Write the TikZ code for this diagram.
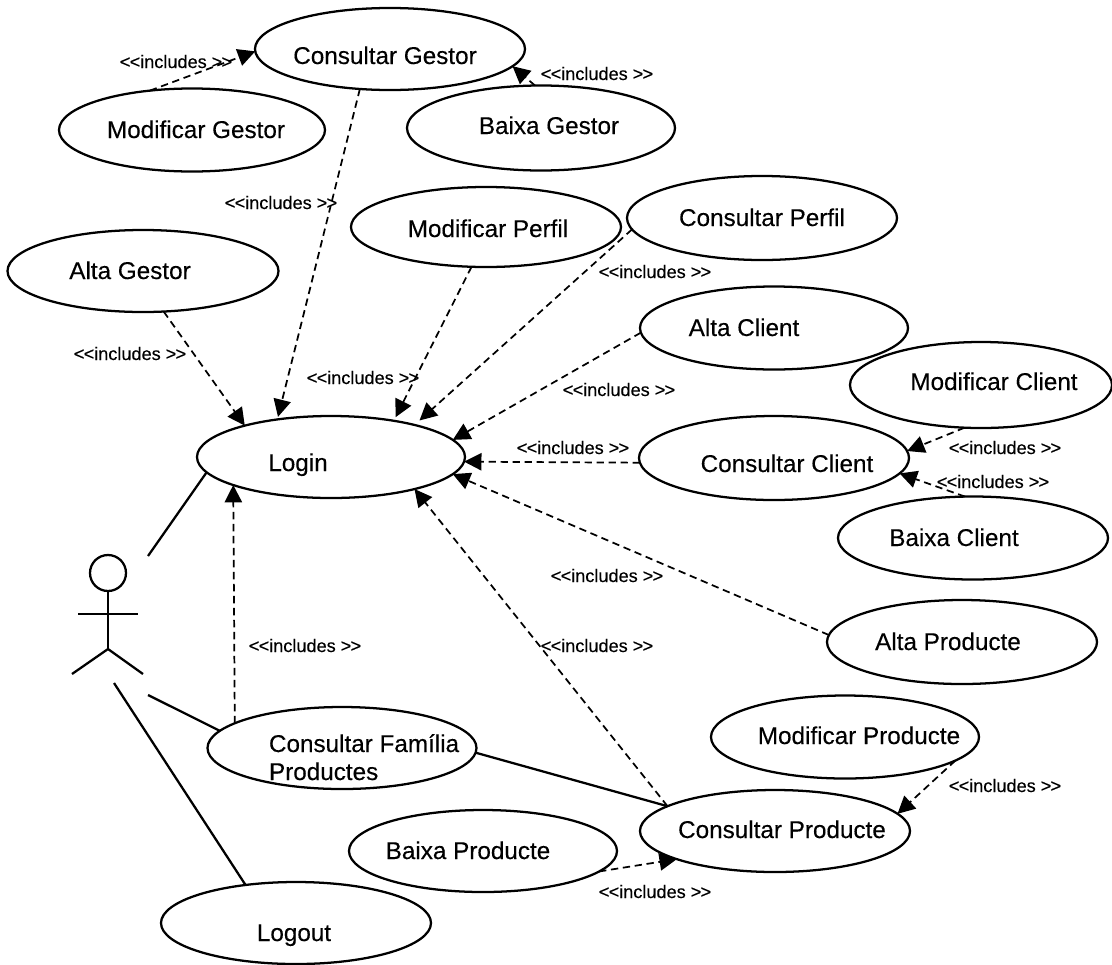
\documentclass[tikz,border=0pt]{standalone}
\usepackage{fontspec}
\setmainfont[FakeBold=0.25,AutoFakeBold=0.25]{Liberation Sans}
\usetikzlibrary{shapes.geometric,arrows.meta}
\newlength{\upx}\setlength{\upx}{0.75pt}
\newcommand{\shifted}[3]{\makebox[0pt][c]{\hspace*{#1\upx}\hspace*{#1\upx}\raisebox{#2\upx}[0pt][0pt]{#3}}}
% name, cx, cy, rx, ry, text dx, text raise, text
\newcommand{\usecase}[8]{\node[uc,minimum width=#4*1.5pt,minimum height=#5*1.5pt] (#1) at (#2,#3) {\shifted{#6}{#7}{#8}};}
\newcommand{\inclabel}{<\kern-0.6pt<includes >\kern-0.6pt>}
\tikzset{
  x=0.75pt,y=-0.75pt,
  uc/.style={ellipse,draw,line width=1.7pt,inner sep=0pt,outer sep=0pt,font=\fontsize{18.2pt}{22pt}\selectfont,fill=white},
  incl/.style={line width=1.3pt,dash pattern=on 5.5pt off 3.5pt,-{Triangle[length=13pt,width=13pt]}},
  assoc/.style={line width=1.7pt},
  lbl/.style={anchor=base,inner sep=0pt,font=\fontsize{13.6pt}{16pt}\selectfont},
  stick/.style={line width=1.7pt}
}
\begin{document}
\begin{tikzpicture}
\useasboundingbox (0,0) rectangle (1112,964);
\usecase{cg}{390}{49}{135}{41}{-5}{-15}{Consultar Gestor}
\usecase{mg}{192}{130}{133}{41.5}{4}{-8}{Modificar Gestor}
\usecase{bg}{541}{128}{134}{42.5}{8}{-6}{Baixa Gestor}
\usecase{mp}{486}{227}{135}{40}{2}{-10}{Modificar Perfil}
\usecase{cp}{762}{218}{135}{42}{0}{-8}{Consultar Perfil}
\usecase{ag}{143}{271}{135.5}{41}{-13}{-8}{Alta Gestor}
\usecase{ac}{774}{328}{134}{41.5}{-30}{-8}{Alta Client}
\usecase{mc}{981}{385}{131}{43}{13}{-5}{Modificar Client}
\usecase{login}{331}{457}{134}{41}{-33}{-14}{Login}
\usecase{ccl}{774}{458}{135}{42}{13}{-14}{Consultar Client}
\usecase{bc}{973}{538}{135}{41.5}{-19}{-8}{Baixa Client}
\usecase{ap}{962}{642}{135}{42}{-14}{-8}{Alta Producte}
\usecase{mpr}{845}{737}{134}{41.5}{14}{-7}{Modificar Producte}
\usecase{fam}{342}{748}{134.5}{41}{0}{0}{\makebox[0pt][l]{\hspace*{-73\upx}\raisebox{-4\upx}{Consultar Família}}\makebox[0pt][l]{\hspace*{-73\upx}\raisebox{-32\upx}{Productes}}}
\usecase{cpr}{775}{831}{135}{41}{7}{-7}{Consultar Producte}
\usecase{bpr}{483}{851}{134}{41}{-15}{-8}{Baixa Producte}
\usecase{lo}{296}{923}{135}{41}{-2}{-18}{Logout}

% actor
\node[circle,draw,line width=1.7pt,minimum size=27pt,inner sep=0pt] (head) at (108,573) {};
\coordinate (hip) at (108,649);
\coordinate (armL) at (78,614);
\coordinate (armR) at (138,614);
\coordinate (legL) at (72,674);
\coordinate (legR) at (143,674);
\draw[stick] (head.south) -- (hip);
\draw[stick] (armL) -- (armR);
\draw[stick] (legL) -- (hip) -- (legR);

% actor associations
\coordinate (a1) at (148,556);
\coordinate (a2) at (148,695);
\coordinate (a3) at (114,683);
\draw[assoc] (a1) -- (login.187.8);
\draw[assoc] (a2) -- (fam.172.6);
\draw[assoc] (a3) -- (lo.143);
\draw[assoc] (fam.-2) -- (cpr.167.6);

% includes
\draw[incl] (mg.137) -- (cg.181.7);
\draw[incl,shorten >=2pt] (cg.233) -- (login.145);
\draw[incl] (bg.98) -- (cg.-8);
\draw[incl] (ag.-63) -- (login.160.6);
\draw[incl,shorten >=3pt] (mp.250) -- (login.30);
\draw[incl,shorten >=5pt] (cp.185) -- (login.21);
\draw[incl] (ac.182) -- (login.8.4);
\draw[incl] (ccl.182) -- (login.-2);
\draw[incl] (ap.177.4) -- (login.-8);
\draw[incl] (cpr.167.7) -- (login.-21.5);
\draw[incl] (mc.249.6) -- (ccl.3.4);
\draw[incl] (bc.101) -- (ccl.-7.4);
\draw[incl] (fam.167.7) -- (login.196.3);
\draw[incl] (mpr.-12.5) -- (cpr.8);
\draw[incl] (bpr.-10.4) -- (cpr.196);

% labels
\node[lbl] (l1) at (176,68) {\inclabel};
\node[lbl] (l2) at (281,209) {\inclabel};
\node[lbl] (l3) at (597,80) {\inclabel};
\node[lbl] (l4) at (655,278) {\inclabel};
\node[lbl] (l5) at (130,360) {\inclabel};
\node[lbl] (l6) at (363,384) {\inclabel};
\node[lbl] (l7) at (619,396) {\inclabel};
\node[lbl] (l8) at (573,454) {\inclabel};
\node[lbl] (l9) at (1005,454) {\inclabel};
\node[lbl] (l10) at (993,488) {\inclabel};
\node[lbl] (l11) at (607,582) {\inclabel};
\node[lbl] (l12) at (305,652) {\inclabel};
\node[lbl] (l13) at (597,652) {\inclabel};
\node[lbl] (l14) at (1005,792) {\inclabel};
\node[lbl] (l15) at (655,898) {\inclabel};
\end{tikzpicture}
\end{document}
